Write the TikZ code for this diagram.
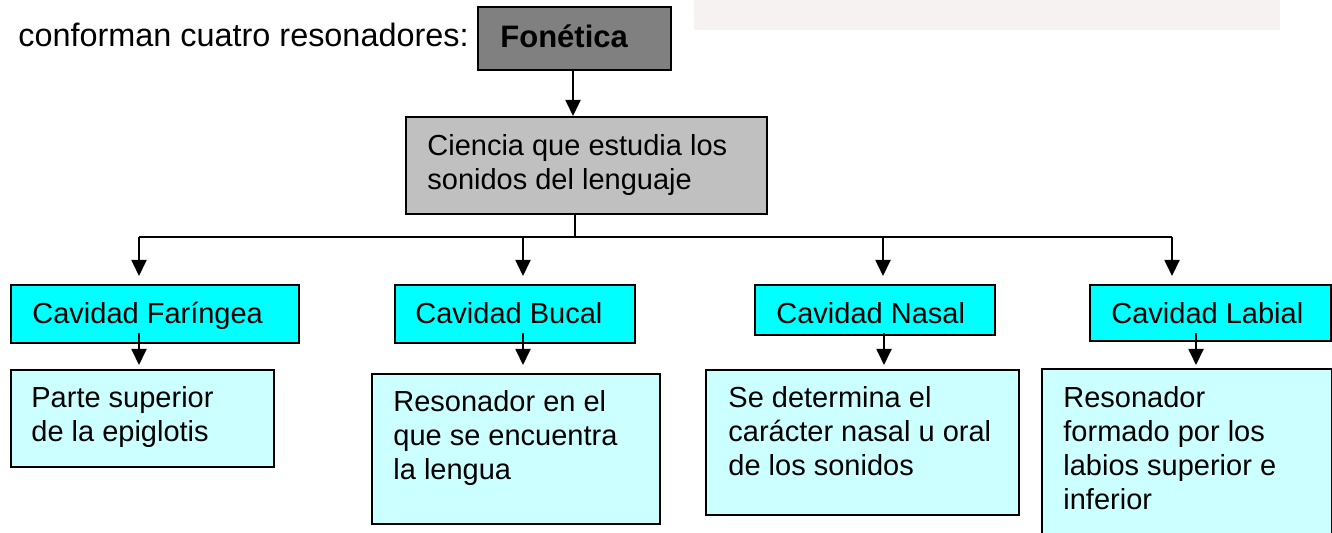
\documentclass[tikz,border=0pt]{standalone}
\usepackage{fontspec}
\setmainfont{Liberation Sans}
\usetikzlibrary{arrows.meta,fit}
\definecolor{fongray}{HTML}{808080}
\definecolor{ciegray}{HTML}{C0C0C0}
\definecolor{cavcyan}{HTML}{00FFFF}
\definecolor{lowcyan}{HTML}{CCFFFF}
\definecolor{fadeband}{HTML}{F6F2F2}
\tikzset{
  box/.style={draw=black, line width=1pt, inner sep=0pt},
  fonbox/.style={box, fill=fongray},
  ciebox/.style={box, fill=ciegray},
  cavbox/.style={box, fill=cavcyan},
  lowbox/.style={box, fill=lowcyan},
  txt/.style={inner sep=0pt, anchor=base west, font=\fontsize{14.5}{17}\selectfont},
  conn/.style={line width=0.9pt},
  arr/.style={conn, -{Triangle[length=8pt,width=7.5pt]}},
}
\newcommand{\mylines}[1]{\parbox[t]{200pt}{#1}}
\begin{document}
\begin{tikzpicture}[x=0.5pt,y=-0.5pt]
\useasboundingbox (0,0) rectangle (1332,533);
\fill[fadeband] (694,0) rectangle (1280,30);

% top text
\node[txt, font=\fontsize{16.2}{19}\selectfont] (intro) at (18,47) {conforman cuatro resonadores:};

% Fonetica
\node[fonbox, fit={(478,7) (671,70)}] (fon) {};
\node[txt, font=\fontsize{15.5}{18}\selectfont\bfseries] (font) at (500,48) {Fonética};

% Ciencia
\node[ciebox, fit={(406,117) (767,214)}] (cie) {};
\node[txt] (ciet) at (427,156) {\mylines{Ciencia que estudia los\\sonidos del lenguaje}};

% Cavidades
\node[cavbox, fit={(11,285) (299,343)}] (cav1) {};
\node[txt] (cav1t) at (32,324) {Cavidad Faríngea};
\node[cavbox, fit={(395,285) (635,343)}] (cav2) {};
\node[txt] (cav2t) at (415,324) {Cavidad Bucal};
\node[cavbox, fit={(755,285) (995,335)}] (cav3) {};
\node[txt] (cav3t) at (776,324) {Cavidad Nasal};
\node[cavbox, fit={(1090,285) (1331,341)}] (cav4) {};
\node[txt] (cav4t) at (1111,324) {Cavidad Labial};

% Lower boxes
\node[lowbox, fit={(11,370) (274,467)}] (low1) {};
\node[txt] (low1t) at (31,408) {\mylines{Parte superior\\de la epiglotis}};
\node[lowbox, fit={(372,374) (660,524)}] (low2) {};
\node[txt] (low2t) at (393,412) {\mylines{Resonador en el\\que se encuentra\\la lengua}};
\node[lowbox, fit={(706,370) (1019,515)}] (low3) {};
\node[txt] (low3t) at (728,408) {\mylines{Se determina el\\carácter nasal u oral\\de los sonidos}};
\node[lowbox, draw=none, fit={(1043,370) (1331,533)}] (low4) {};
\draw[line width=1pt] (low4.south west) -- (low4.north west) -- (low4.north east) -- (low4.south east);
\node[txt] (low4t) at (1063,408) {\mylines{Resonador\\formado por los\\labios superior e\\inferior}};

% connector coordinates
\coordinate (xa) at (573,0);
\coordinate (xc) at (575,0);
\coordinate (bus) at (575,237);
\coordinate (d1) at (139,237);
\coordinate (d2) at (523,237);
\coordinate (d3) at (883,237);
\coordinate (d4) at (1172,237);
\coordinate (s1) at (139,333);
\coordinate (s2) at (523,333);
\coordinate (s3) at (884,333);
\coordinate (s4) at (1196,333);

\draw[arr] (fon.south -| xa) -- (cie.north -| xa);
\draw[conn] (cie.south -| xc) -- (bus);
\draw[conn] (d1) -- (d4);
\draw[arr, shorten >=4pt] (d1) -- (cav1.north -| d1);
\draw[arr, shorten >=4pt] (d2) -- (cav2.north -| d2);
\draw[arr, shorten >=4pt] (d3) -- (cav3.north -| d3);
\draw[arr, shorten >=4pt] (d4) -- (cav4.north -| d4);
\draw[arr, shorten >=2pt] (s1) -- (low1.north -| s1);
\draw[arr, shorten >=4pt] (s2) -- (low2.north -| s2);
\draw[arr, shorten >=2pt] (s3) -- (low3.north -| s3);
\draw[arr, shorten >=2pt] (s4) -- (low4.north -| s4);
\end{tikzpicture}
\end{document}
